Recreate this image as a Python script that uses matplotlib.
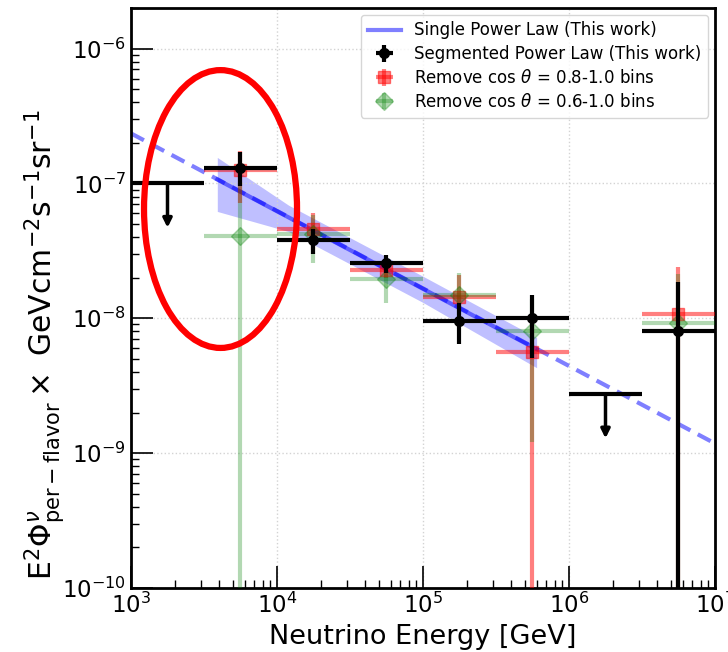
import numpy as np
import matplotlib
matplotlib.use("Agg")
import matplotlib.pyplot as plt
from matplotlib.patches import Ellipse

# ---------------- data ----------------
bin_edges = [1e3, 3.162e3, 1e4, 3.162e4, 1e5, 3.162e5, 1e6, 3.162e6, 1e7]

# Segmented power law (black)
seg_val = [1.0e-7, 1.31e-7, 3.8e-8, 2.55e-8, 9.5e-9, 1.0e-8, 2.74e-9, 8.0e-9]
seg_err_lo = [0, 3.6e-8, 8.2e-9, 4.0e-9, 3.0e-9, 4.9e-9, 0, 8.0e-9]
seg_err_hi = [0, 3.9e-8, 8.2e-9, 3.8e-9, 3.4e-9, 4.9e-9, 0, 1.05e-8]
seg_is_ul = [True, False, False, False, False, False, True, False]
ul_arrow_frac = 0.47   # arrow tip position relative to the limit value

# Remove cos theta = 0.8-1.0 bins (red)
red_bins = [1, 2, 3, 4, 5, 7]
red_val = [1.25e-7, 4.6e-8, 2.3e-8, 1.43e-8, 5.6e-9, 1.07e-8]
red_err_lo = [5.3e-8, 1.4e-8, 3.0e-9, 2.5e-9, 5.6e-9, 1.07e-8]
red_err_hi = [5.0e-8, 1.4e-8, 3.5e-9, 6.5e-9, 3.5e-9, 1.33e-8]

# Remove cos theta = 0.6-1.0 bins (green)
grn_bins = [1, 2, 3, 4, 5, 7]
grn_val = [4.1e-8, 4.2e-8, 1.95e-8, 1.5e-8, 8.0e-9, 9.2e-9]
grn_err_lo = [4.1e-8, 1.65e-8, 6.6e-9, 4.5e-9, 6.8e-9, 9.2e-9]
grn_err_hi = [6.0e-8, 1.6e-8, 6.0e-9, 6.5e-9, 6.0e-9, 1.2e-8]

# Single power law (blue)
pl_E_full = [1e3, 1e7]
pl_val_full = [2.35e-7, 1.18e-9]
pl_E_fit = [3.9e3, 6.0e5]
pl_val_fit = [1.07e-7, 5.9e-9]
band_E = [3.9e3, 1.2e4, 1e5, 6.0e5]
band_hi = [1.56e-7, 6.9e-8, 2.05e-8, 7.2e-9]
band_lo = [6.2e-8, 4.4e-8, 1.31e-8, 4.3e-9]

# ---------------- plot ----------------
W, H = 728, 652
fig = plt.figure(figsize=(W / 100, H / 100), dpi=100)
ax = fig.add_axes([131 / W, 1 - 588 / H, 584 / W, 580 / H])
ax.set_xscale("log")
ax.set_yscale("log")

edges = np.array(bin_edges)
centers = np.sqrt(edges[:-1] * edges[1:])
xlo = centers - edges[:-1]
xhi = edges[1:] - centers

blue = "blue"
ax.fill_between(band_E, band_lo, band_hi, color=blue, alpha=0.25, lw=0, zorder=1)
ax.plot(pl_E_full, pl_val_full, color=blue, alpha=0.5, lw=3, ls=(0, (3.5, 2)), zorder=2)
ax.plot(pl_E_fit, pl_val_fit, color=blue, alpha=0.5, lw=3, zorder=2,
        label="Single Power Law (This work)")

# Red
ri = np.array(red_bins)
ax.errorbar(centers[ri], red_val, xerr=[xlo[ri], xhi[ri]],
            yerr=[red_err_lo, red_err_hi], fmt="s", color="red", alpha=0.5,
            ms=9, elinewidth=3, capsize=0, zorder=3,
            label=r"Remove cos $\theta$ = 0.8-1.0 bins")
# Green
gi = np.array(grn_bins)
ax.errorbar(centers[gi], grn_val, xerr=[xlo[gi], xhi[gi]],
            yerr=[grn_err_lo, grn_err_hi], fmt="D", color="green", alpha=0.3,
            ms=9, elinewidth=3, capsize=0, zorder=3,
            label=r"Remove cos $\theta$ = 0.6-1.0 bins")

# Black segmented (points)
pts = np.array([not u for u in seg_is_ul])
sv = np.array(seg_val)
ax.errorbar(centers[pts], sv[pts], xerr=[xlo[pts], xhi[pts]],
            yerr=[np.array(seg_err_lo)[pts], np.array(seg_err_hi)[pts]],
            fmt="o", color="black", ms=7, elinewidth=3, capsize=0, zorder=4,
            label="Segmented Power Law (This work)")
# Black upper limits
ul = ~pts
ax.errorbar(centers[ul], sv[ul], xerr=[xlo[ul], xhi[ul]],
            fmt="none", ecolor="black", elinewidth=3, capsize=0, zorder=4)
for xc, v in zip(centers[ul], sv[ul]):
    ax.annotate("", xy=(xc, v * ul_arrow_frac), xytext=(xc, v),
                arrowprops=dict(arrowstyle="-|>", color="black", lw=2.5,
                                mutation_scale=13, shrinkA=0, shrinkB=0),
                zorder=4)

ax.set_xlim(1e3, 1e7)
ax.set_ylim(1e-10, 2e-6)

ax.grid(True, which="major", ls=":", color="lightgray", lw=1)
ax.tick_params(which="both", direction="in", labelsize=16.5, top=False, right=False)
ax.tick_params(which="major", length=16, width=1.2)
ax.tick_params(which="minor", length=6, width=1)
for s in ax.spines.values():
    s.set_linewidth(2)

ax.set_xlabel("Neutrino Energy [GeV]", fontsize=19.5)
ax.set_ylabel(r"E$^2\Phi^{\nu}_{\rm per-flavor}\times$ GeVcm$^{-2}$s$^{-1}$sr$^{-1}$",
              fontsize=21.5)
ax.yaxis.set_label_coords(-0.11, 0.42)

ell = Ellipse((0.1533, 0.6534), 0.262, 0.479, transform=ax.transAxes,
              fill=False, ec="red", lw=4.5, zorder=6, clip_on=False)
ax.add_patch(ell)

h, l = ax.get_legend_handles_labels()
order = [l.index("Single Power Law (This work)"),
         l.index("Segmented Power Law (This work)"),
         l.index(r"Remove cos $\theta$ = 0.8-1.0 bins"),
         l.index(r"Remove cos $\theta$ = 0.6-1.0 bins")]
ax.legend([h[i] for i in order], [l[i] for i in order], loc="upper right",
          fontsize=12, framealpha=0.8, borderaxespad=0.4, labelspacing=0.35)

fig.savefig("out.png", dpi=100)
